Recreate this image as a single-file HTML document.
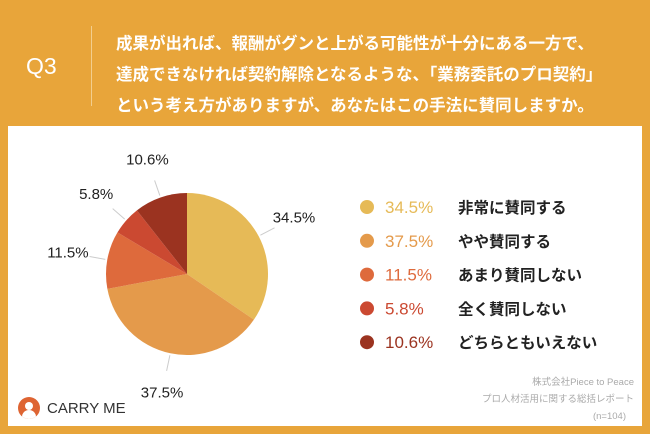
<!DOCTYPE html>
<html><head><meta charset="utf-8"><style>
body{margin:0;width:650px;height:434px;background:#E8A53A;font-family:"Liberation Sans","Noto Sans CJK JP",sans-serif;position:relative;overflow:hidden}
.abs{position:absolute}
</style></head><body>
<div class="abs" style="left:26px;top:53px;color:#fff;font-size:23px">Q3</div>
<div class="abs" style="left:91px;top:26px;width:1px;height:80px;background:#F3CE8E"></div>
<div class="abs" style="left:116px;top:29px;color:#fff;font-size:16.5px;line-height:31px;font-weight:bold;white-space:nowrap">成果が出れば、報酬がグンと上がる可能性が十分にある一方で、<br>達成できなければ契約解除となるような、「業務委託のプロ契約」<br>という考え方がありますが、あなたはこの手法に賛同しますか。</div>
<div class="abs" style="left:8px;top:126px;width:634px;height:300px;background:#fff"></div>
<svg class="abs" style="left:0;top:0" width="650" height="434" id="chart"></svg>
<div class="abs" style="right:16px;top:374px;color:#aaa;font-size:9.5px;line-height:17px;text-align:right">株式会社Piece to Peace<br>プロ人材活用に関する総括レポート<br><span style="margin-right:8px">(n=104)</span></div>
<div class="abs" style="left:18px;top:397px;width:22px;height:22px;border-radius:50%;background:#DE6432;overflow:hidden">
<div style="position:absolute;left:7px;top:5px;width:8px;height:8px;border-radius:50%;background:#fff"></div>
<div style="position:absolute;left:4px;top:13px;width:14px;height:12px;border-radius:7px 7px 0 0;background:#fff"></div></div>
<div class="abs" style="left:47px;top:400px;color:#333;font-size:15px">CARRY ME</div>
<script>
const categories=["非常に賛同する","やや賛同する","あまり賛同しない","全く賛同しない","どちらともいえない"];
const values=[34.5,37.5,11.5,5.8,10.6];
const labels=["34.5%","37.5%","11.5%","5.8%","10.6%"];
const colors=["#E6BA57","#E49A4B","#DE6A3C","#CB4931","#9B3320"];
const svg=document.getElementById('chart');const NS="http://www.w3.org/2000/svg";
const cx=187,cy=274,r=81;
const total=values.reduce((a,b)=>a+b,0);
function pt(a,rr){return [cx+rr*Math.sin(a),cy-rr*Math.cos(a)];}
let acc=0;
values.forEach((v,i)=>{
 const a0=acc/total*2*Math.PI;acc+=v;const a1=acc/total*2*Math.PI;
 const p0=pt(a0,r),p1=pt(a1,r);
 const p=document.createElementNS(NS,'path');
 p.setAttribute('d',`M${cx},${cy}L${p0[0]},${p0[1]}A${r},${r} 0 ${a1-a0>Math.PI?1:0} 1 ${p1[0]},${p1[1]}Z`);
 p.setAttribute('fill',colors[i]);
 
 
 svg.appendChild(p);
 const am=(a0+a1)/2;const l0=pt(am,r+2),l1=pt(am,r+18),t=pt(am,r+40);
 const ln=document.createElementNS(NS,'line');
 ln.setAttribute('x1',l0[0]);ln.setAttribute('y1',l0[1]);ln.setAttribute('x2',l1[0]);ln.setAttribute('y2',l1[1]);
 ln.setAttribute('stroke','#ccc');ln.setAttribute('stroke-width','1');
 
 
 svg.appendChild(ln);
 const tx=document.createElementNS(NS,'text');
 tx.setAttribute('x',t[0]);tx.setAttribute('y',t[1]+5);tx.setAttribute('text-anchor','middle');
 tx.setAttribute('font-size','15');tx.setAttribute('fill','#222');
 tx.textContent=labels[i];
 
 
 svg.appendChild(tx);
 const y=207+i*33.8;
 const c=document.createElementNS(NS,'circle');
 c.setAttribute('cx',367);c.setAttribute('cy',y);c.setAttribute('r',7);c.setAttribute('fill',colors[i]);
 
 
 svg.appendChild(c);
 const pv=document.createElementNS(NS,'text');
 pv.setAttribute('x',385);pv.setAttribute('y',y+6);pv.setAttribute('font-size','17');pv.setAttribute('fill',colors[i]);
 pv.textContent=labels[i];
 
 
 svg.appendChild(pv);
 const lt=document.createElementNS(NS,'text');
 lt.setAttribute('x',458);lt.setAttribute('y',y+6);lt.setAttribute('font-size','15.5');lt.setAttribute('font-weight','bold');lt.setAttribute('fill','#222');
 lt.textContent=categories[i];
 
 
 svg.appendChild(lt);
});
</script>
</body></html>
